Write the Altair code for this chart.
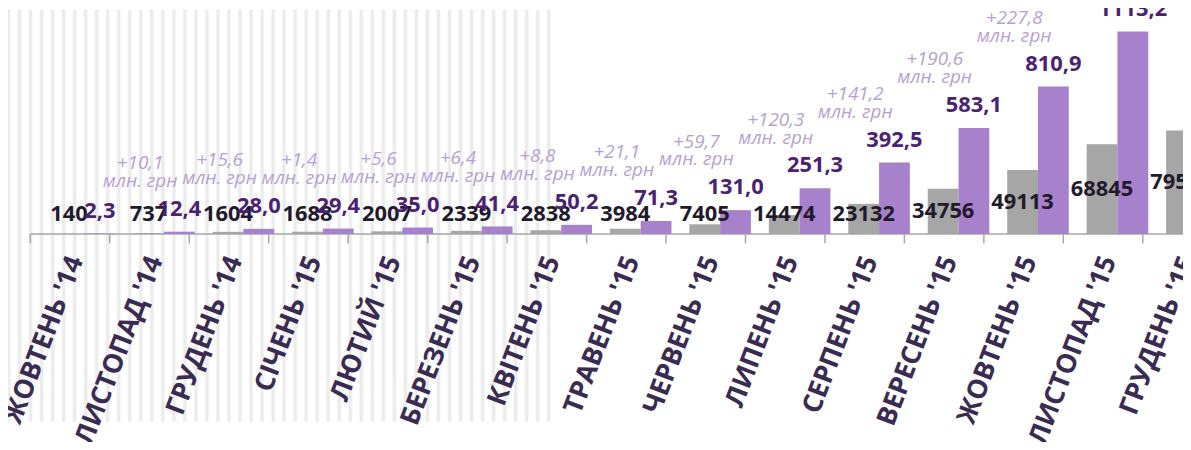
import json
import altair as alt
import pandas as pd

# ---------------- data ----------------
months = ["ЖОВТЕНЬ '14", "ЛИСТОПАД '14", "ГРУДЕНЬ '14", "СІЧЕНЬ '15", "ЛЮТИЙ '15",
          "БЕРЕЗЕНЬ '15", "КВІТЕНЬ '15", "ТРАВЕНЬ '15", "ЧЕРВЕНЬ '15", "ЛИПЕНЬ '15",
          "СЕРПЕНЬ '15", "ВЕРЕСЕНЬ '15", "ЖОВТЕНЬ '15", "ЛИСТОПАД '15", "ГРУДЕНЬ '15"]
counts = [140, 737, 1604, 1688, 2007, 2339, 2838, 3984, 7405, 14474,
          23132, 34756, 49113, 68845, 79518]
amounts = [2.3, 12.4, 28.0, 29.4, 35.0, 41.4, 50.2, 71.3, 131.0, 251.3,
           392.5, 583.1, 810.9, 1113.2, None]
increments = [None, 10.1, 15.6, 1.4, 5.6, 6.4, 8.8, 21.1, 59.7, 120.3,
              141.2, 190.6, 227.8, 302.3, None]


def fmt(v):
    return f"{v:.1f}".replace(".", ",")


df = pd.DataFrame({
    "k": list(range(len(months))),
    "month": months,
    "count": counts,
    "amount": amounts,
    "inc": increments,
})
df["count_label"] = [str(c) for c in counts]
df["amount_label"] = [fmt(a) if a is not None else "" for a in amounts]
df["inc_label"] = [("+" + fmt(i) + "\nмлн. грн") if i is not None else "" for i in increments]

# ---------------- layout / styles ----------------
W, H = 1183, 226
STEP = 80.0
x_min = -77 / STEP
x_max = x_min + W / STEP
BAR = 31 / STEP
TICK_SHIFT = 0.6875

xscale = alt.Scale(domain=[x_min, x_max], nice=False, zero=False)
ygray = alt.Scale(domain=[0, H / 0.00131], nice=False, zero=True)
ypurp = alt.Scale(domain=[0, H / 0.183], nice=False, zero=True)

tick_vals = [i - TICK_SHIFT for i in range(len(months))]
label_expr = json.dumps(months, ensure_ascii=False) + f"[round(datum.value + {TICK_SHIFT})]"

xaxis = alt.Axis(values=tick_vals, labelExpr=label_expr, labelAngle=-69,
                 labelAlign="right", labelBaseline="middle", labelFont="Open Sans",
                 labelFontSize=27, labelFontWeight="bold", labelColor="#3a2b52",
                 labelPadding=14, labelOffset=46, labelOverlap=False, labelLimit=0,
                 labelFlush=False, labelBound=False, tickColor="#a6a6a6",
                 tickSize=9, tickWidth=1.5, domain=False, grid=False, title=None,
                 zindex=1)

GRAY = "#a6a6a6"
PURPLE = "#a881cd"

# striped background decoration
period = 11.1
rect_w = 550
stops = []
last = -1.0
i = 0
while True:
    c = i * period + 0.5
    if c - 3 > rect_w:
        break
    for off, col in [(-2.6, "#ffffff"), (-1.0, "#ececec"), (1.0, "#ececec"), (2.6, "#ffffff")]:
        o = (c + off) / rect_w
        if 0 <= o <= 1 and o > last:
            stops.append(alt.GradientStop(color=col, offset=round(o, 5)))
            last = o
    i += 1
grad = alt.LinearGradient(gradient="linear", stops=stops, x1=0, x2=1, y1=0, y2=0)

stripes = alt.Chart(alt.InlineData(values=[{"a": 1}])).mark_rect(fill=grad).encode(
    x=alt.value(0), x2=alt.value(rect_w), y=alt.value(0), y2=alt.value(415)
)

base = alt.Chart(df)

baseline = alt.Chart(alt.InlineData(values=[{"a": 1}])).mark_rule(
    color=GRAY, strokeWidth=1.5
).encode(
    x=alt.X(datum=-TICK_SHIFT, type="quantitative", scale=xscale, axis=xaxis),
    x2=alt.X2(datum=x_max),
    y=alt.value(H),
)

gray_bars = base.transform_calculate(
    x0=f"datum.k - {BAR}", x1="datum.k"
).mark_rect(color=GRAY).encode(
    x=alt.X("x0:Q", scale=xscale, axis=xaxis),
    x2="x1:Q",
    y=alt.Y("count:Q", scale=ygray, axis=None),
    y2=alt.value(H),
)

count_text = base.transform_calculate(
    xc=f"datum.k - {BAR / 2}", yc="max(datum.count / 2, 15000)"
).mark_text(font="Open Sans", fontWeight="bold", fontSize=22, color="#211a2b",
            baseline="middle", align="center").encode(
    x=alt.X("xc:Q", scale=xscale, axis=xaxis),
    y=alt.Y("yc:Q", scale=ygray, axis=None),
    text="count_label:N",
)

purple_bars = base.transform_filter("isValid(datum.amount)").transform_calculate(
    x0="datum.k", x1=f"datum.k + {BAR}"
).mark_rect(color=PURPLE).encode(
    x=alt.X("x0:Q", scale=xscale, axis=xaxis),
    x2="x1:Q",
    y=alt.Y("amount:Q", scale=ypurp, axis=None),
    y2=alt.value(H),
)

amount_text = base.transform_filter("isValid(datum.amount)").transform_calculate(
    xc=f"datum.k + {BAR / 2}"
).mark_text(font="Open Sans", fontWeight="bold", fontSize=22, color="#4b2173",
            baseline="alphabetic", align="center", dy=-16).encode(
    x=alt.X("xc:Q", scale=xscale, axis=xaxis),
    y=alt.Y("amount:Q", scale=ypurp, axis=None),
    text="amount_label:N",
)

inc_text = base.transform_filter("isValid(datum.inc)").mark_text(
    font="Open Sans", fontStyle="italic", fontSize=19, color="#b6a1d2",
    baseline="alphabetic", align="center", dx=-24, dy=-63, lineBreak="\n", lineHeight=18
).encode(
    x=alt.X("k:Q", scale=xscale, axis=xaxis),
    y=alt.Y("amount:Q", scale=ypurp, axis=None),
    text="inc_label:N",
)

chart = alt.layer(
    stripes, baseline, gray_bars, purple_bars, count_text, amount_text, inc_text
).resolve_scale(y="independent").properties(
    width=W, height=H,
    autosize=alt.AutoSizeParams(type="none"),
    padding={"left": 0, "top": 0, "right": 0, "bottom": 208},
    background="#ffffff",
).configure_view(strokeWidth=0)

chart.save("out.html", embed_options={"renderer": "svg", "actions": False})
